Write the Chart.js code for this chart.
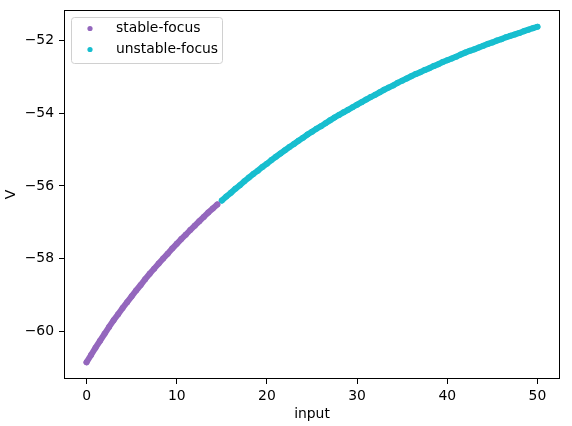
<!DOCTYPE html>
<html>
<head>
<meta charset="utf-8">
<script src="https://cdn.jsdelivr.net/npm/chart.js@4"></script>
<style>
  html, body { margin: 0; padding: 0; background: #fff; }
  #chart { display: block; }
</style>
</head>
<body>
<canvas id="chart" width="572" height="426"></canvas>
<script>
const stableInput = [0, 0.5, 1, 1.5, 2, 2.5, 3, 3.5, 4, 4.5, 5, 5.5, 6, 6.5, 7, 7.5, 8, 8.5, 9, 9.5,
    10, 10.5, 11, 11.5, 12, 12.5, 13, 13.5, 14, 14.5];
const stableV = [-60.84, -60.64, -60.44, -60.25, -60.06, -59.87, -59.69, -59.52, -59.35, -59.19,
    -59.03, -58.87, -58.72, -58.56, -58.41, -58.27, -58.13, -57.99, -57.86, -57.72,
    -57.59, -57.46, -57.34, -57.21, -57.09, -56.97, -56.85, -56.73, -56.62, -56.51];

const unstableInput = [15, 15.5, 16, 16.5, 17, 17.5, 18, 18.5, 19, 19.5, 20, 20.5, 21, 21.5, 22, 22.5,
    23, 23.5, 24, 24.5, 25, 25.5, 26, 26.5, 27, 27.5, 28, 28.5, 29, 29.5, 30, 30.5, 31, 31.5, 32, 32.5,
    33, 33.5, 34, 34.5, 35, 35.5, 36, 36.5, 37, 37.5, 38, 38.5, 39, 39.5, 40, 40.5, 41, 41.5, 42, 42.5,
    43, 43.5, 44, 44.5, 45, 45.5, 46, 46.5, 47, 47.5, 48, 48.5, 49, 49.5, 50];
const unstableV = [-56.40, -56.29, -56.19, -56.08, -55.98, -55.87, -55.77, -55.67, -55.58, -55.48,
    -55.39, -55.29, -55.20, -55.11, -55.02, -54.93, -54.85, -54.76, -54.68, -54.59,
    -54.51, -54.43, -54.36, -54.28, -54.20, -54.12, -54.05, -53.98, -53.91, -53.84,
    -53.77, -53.70, -53.63, -53.56, -53.50, -53.43, -53.36, -53.30, -53.24, -53.17,
    -53.11, -53.05, -52.99, -52.93, -52.88, -52.82, -52.77, -52.71, -52.66, -52.60,
    -52.55, -52.50, -52.45, -52.39, -52.34, -52.29, -52.25, -52.20, -52.15, -52.10,
    -52.06, -52.01, -51.97, -51.92, -51.88, -51.84, -51.80, -51.75, -51.71, -51.67, -51.63];

const seriesNames = ['stable-focus', 'unstable-focus'];
const seriesColors = ['#9467bd', '#17becf'];
const xTicks = [0, 10, 20, 30, 40, 50];
const yTicks = [-60, -58, -56, -54, -52];

const FONT = 'DejaVu Sans';
const FSIZE = 13.9;
const toPoints = (xs, ys) => xs.map((x, i) => ({ x: x, y: ys[i] }));
const minus = v => String(v).replace('-', '\u2212');

// frame round the plot and the legend box in the top-left corner
const framePlugin = {
    id: 'frame',
    afterDraw(chart) {
        const c = chart.ctx;
        const a = chart.chartArea;
        c.save();
        c.strokeStyle = '#000';
        c.lineWidth = 1;
        c.strokeRect(a.left + 0.5, a.top + 0.5, a.right - a.left - 1, a.bottom - a.top - 1);

        const lx = a.left + 7.5, ly = a.top + 7.5, lw = 151, lh = 46;
        c.strokeStyle = '#d0d0d0';
        c.fillStyle = 'rgba(255,255,255,0.8)';
        c.beginPath();
        c.roundRect(lx, ly, lw, lh, 3);
        c.fill();
        c.stroke();

        c.font = FSIZE + 'px "' + FONT + '"';
        c.textBaseline = 'middle';
        chart.data.datasets.forEach((ds, i) => {
            const y = a.top + 18.5 + i * 21;
            c.fillStyle = ds.backgroundColor;
            c.beginPath();
            c.arc(a.left + 26, y, 2.6, 0, Math.PI * 2);
            c.fill();
            c.fillStyle = '#000';
            c.fillText(ds.label, a.left + 52, y);
        });
        c.restore();
    }
};

new Chart(document.getElementById('chart'), {
    type: 'scatter',
    data: {
        datasets: [
            {
                label: seriesNames[0],
                data: toPoints(stableInput, stableV),
                backgroundColor: seriesColors[0],
                borderColor: seriesColors[0],
                showLine: true,
                borderWidth: 6,
                borderCapStyle: 'round',
                pointRadius: 3,
                pointBorderWidth: 0
            },
            {
                label: seriesNames[1],
                data: toPoints(unstableInput, unstableV),
                backgroundColor: seriesColors[1],
                borderColor: seriesColors[1],
                showLine: true,
                borderWidth: 6,
                borderCapStyle: 'round',
                pointRadius: 3,
                pointBorderWidth: 0
            }
        ]
    },
    options: {
        responsive: false,
        animation: false,
        devicePixelRatio: 1,
        layout: { padding: { top: 10, right: 12, left: 0, bottom: 0 } },
        plugins: {
            legend: { display: false },
            tooltip: { enabled: false }
        },
        scales: {
            x: {
                type: 'linear',
                min: -2.5,
                max: 52.5,
                afterFit(scale) {
                    scale.height = 47;
                    scale.paddingLeft = 0;
                    scale.paddingRight = 0;
                },
                afterBuildTicks(scale) { scale.ticks = xTicks.map(v => ({ value: v })); },
                border: { display: false },
                grid: { drawOnChartArea: false, tickLength: 5, tickColor: '#000' },
                ticks: {
                    color: '#000',
                    padding: 4,
                    maxRotation: 0,
                    font: { family: FONT, size: FSIZE },
                    callback: v => minus(v)
                },
                title: {
                    display: true,
                    text: 'input',
                    color: '#000',
                    padding: { top: 0, bottom: 3 },
                    font: { family: FONT, size: FSIZE }
                }
            },
            y: {
                type: 'linear',
                min: -61.3,
                max: -51.17,
                afterFit(scale) {
                    scale.width = 64;
                    scale.paddingTop = 0;
                    scale.paddingBottom = 0;
                },
                afterBuildTicks(scale) { scale.ticks = yTicks.map(v => ({ value: v })); },
                border: { display: false },
                grid: { drawOnChartArea: false, tickLength: 5, tickColor: '#000' },
                ticks: {
                    color: '#000',
                    padding: 5,
                    font: { family: FONT, size: FSIZE },
                    callback: v => minus(v)
                },
                title: {
                    display: true,
                    text: 'V',
                    color: '#000',
                    padding: { top: 3, bottom: 0 },
                    font: { family: FONT, size: FSIZE }
                }
            }
        }
    },
    plugins: [framePlugin]
});
</script>
</body>
</html>
